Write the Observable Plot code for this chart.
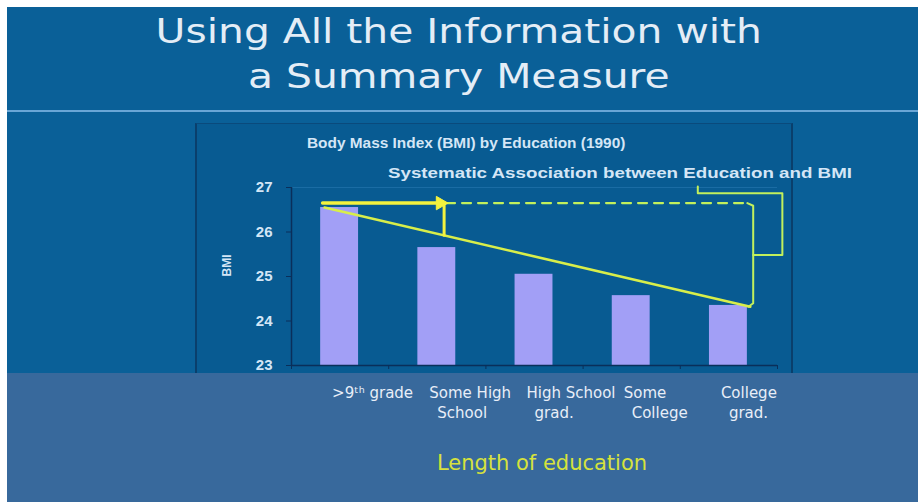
<!DOCTYPE html>
<html><head><meta charset="utf-8">
<script src="https://cdn.jsdelivr.net/npm/d3@7"></script>
<script src="https://cdn.jsdelivr.net/npm/@observablehq/plot@0.6"></script>
<style>
html,body{margin:0;padding:0;background:#ffffff;}
body{width:918px;height:502px;overflow:hidden;position:relative;font-family:"DejaVu Sans",sans-serif;}
#top{position:absolute;left:7px;top:7px;width:911px;height:366px;background:#0a6098;}
#sep{position:absolute;left:7px;top:110px;width:911px;height:2px;background:#6aa6d6;}
#panel{position:absolute;left:195px;top:123px;width:594px;height:250px;background:#085b92;border-left:2px solid #0a3f6c;border-top:1px solid #0a4a7c;border-right:2px solid #0a3f6c;}
#band{position:absolute;left:7px;top:373px;width:911px;height:129px;background:#38699c;}
.title{position:absolute;left:0;width:918px;text-align:center;color:#e4edf6;font-size:34px;line-height:34px;font-family:"DejaVu Sans",sans-serif;transform:scaleX(1.2);transform-origin:460px 0;}
.ctext{position:absolute;white-space:nowrap;color:#d4e6f6;font-family:"Liberation Sans",Arial,sans-serif;font-weight:bold;line-height:1;transform-origin:0 0;}
#xlabel{position:absolute;left:0;width:1084px;text-align:center;top:451px;color:#d6e23c;font-size:21px;font-family:"DejaVu Sans",sans-serif;}
#chart{position:absolute;left:0;top:0;}
</style></head>
<body>
<div id="top"></div>
<div id="sep"></div>
<div id="panel"></div>
<div id="band"></div>
<div class="title" style="top:14px">Using All the Information with</div>
<div class="title" style="top:59px">a Summary Measure</div>
<div class="ctext" id="ctitle" style="left:307px;top:136px;font-size:14px;transform:scaleX(1.1);">Body Mass Index (BMI) by Education (1990)</div>
<div class="ctext" id="csub" style="left:388px;top:165px;font-size:15px;transform:scaleX(1.25);">Systematic Association between Education and BMI</div>
<div id="chart"></div>
<div id="xlabel">Length of education</div>
<script>
// ---- data ----
const labelLine1 = [">9ᵗʰ grade", "Some High", "High School", "Some", "College"];
const labelLine2 = ["", "School", "grad.", "College", "grad."];
const bmi = [26.55, 25.65, 25.05, 24.57, 24.35];
const yTicks = [23, 24, 25, 26, 27];
const yDomain = [23, 27];

// ---- layout helpers (derived from data) ----
const n = bmi.length;
const barLo = 0.3, barHi = 0.69;
const rows = bmi.map((v, i) => ({i, v}));
const level = bmi[0] + 0.1;                       // horizontal reference at the top group
const start = {x: barLo + 0.04, y: bmi[0]};
const end = {x: (n - 1) + barHi + 0.03, y: bmi[n - 1] - 0.03};
const slope = (end.y - start.y) / (end.x - start.x);
const diagAt = x => start.y + slope * (x - start.x);
const arrowX = 1.56;
const bx = end.x + 0.03;                          // bracket x
const mid = (level + end.y) / 2;

const chart = Plot.plot({
  width: 918, height: 502,
  marginLeft: 291, marginRight: 141, marginTop: 187, marginBottom: 137,
  x: {domain: [0, n], axis: null},
  y: {domain: yDomain, axis: null},
  style: {background: "transparent", overflow: "visible"},
  marks: [
    Plot.rect(rows, {x1: d => d.i + barLo, x2: d => d.i + barHi, y1: () => yDomain[0], y2: "v", fill: "#a29ff6"}),
    Plot.ruleY([yDomain[1]], {stroke: "#1a6ca4", strokeWidth: 1}),
    Plot.ruleX([0], {stroke: "#0a2f5a", strokeWidth: 1.5}),
    Plot.ruleY([yDomain[0]], {stroke: "#0a2f5a", strokeWidth: 1.5}),
    Plot.axisY({ticks: yTicks, tickFormat: "d", tickSize: 5, tickPadding: 14, stroke: "#0a2f5a", fill: "#d4e6f6",
      fontSize: 15, fontWeight: "bold", fontFamily: "Liberation Sans, Arial, sans-serif", label: null}),
    Plot.axisX({ticks: d3.range(n + 1), tickSize: 4, stroke: "#0a2f5a", tickFormat: () => "", label: null}),
    Plot.text(["BMI"], {frameAnchor: "left", dx: -64, rotate: -90, fill: "#d4e6f6", fontSize: 12, fontWeight: "bold", fontFamily: "Liberation Sans, Arial, sans-serif"}),
    // category labels (two lines)
    Plot.text(labelLine1, {x: (d, i) => i + 0.5, y: () => yDomain[0], dy: 28, dx: -8, textAnchor: "start", fill: "#e8eef8", fontSize: 15, fontFamily: "DejaVu Sans, sans-serif"}),
    Plot.text(labelLine2, {x: (d, i) => i + 0.5, y: () => yDomain[0], dy: 48, dx: 0, textAnchor: "start", fill: "#e8eef8", fontSize: 15, fontFamily: "DejaVu Sans, sans-serif"}),
    // dashed reference
    Plot.line([[arrowX + 0.03, level], [end.x - 0.03, level]], {stroke: "#c2f05c", strokeWidth: 2.2, strokeDasharray: "9,7"}),
    // bracket
    Plot.line([[end.x - 0.03, level], [bx, level - 0.06], [bx, end.y + 0.08], [end.x - 0.02, end.y]], {stroke: "#c2f05c", strokeWidth: 2, curve: "linear"}),
    Plot.line([[bx, mid], [bx + 0.3, mid], [bx + 0.3, level + 0.22], [4.18, level + 0.22], [4.18, level + 0.37]], {stroke: "#c2f05c", strokeWidth: 2}),
    // summary line
    Plot.line([[start.x, start.y], [end.x, end.y]], {stroke: "#d8ee4a", strokeWidth: 2.6}),
    // arrow
    Plot.line([[start.x - 0.02, level], [arrowX - 0.04, level]], {stroke: "#f4f23e", strokeWidth: 3.5}),
    Plot.dot([[arrowX - 0.03, level]], {symbol: "triangle", rotate: 90, r: 5, fill: "#f4f23e", stroke: "#f4f23e", strokeWidth: 1}),
    Plot.line([[arrowX + 0.01, level], [arrowX + 0.01, diagAt(arrowX)]], {stroke: "#f4f23e", strokeWidth: 3})
  ]
});
document.getElementById("chart").appendChild(chart);
</script>
</body></html>
